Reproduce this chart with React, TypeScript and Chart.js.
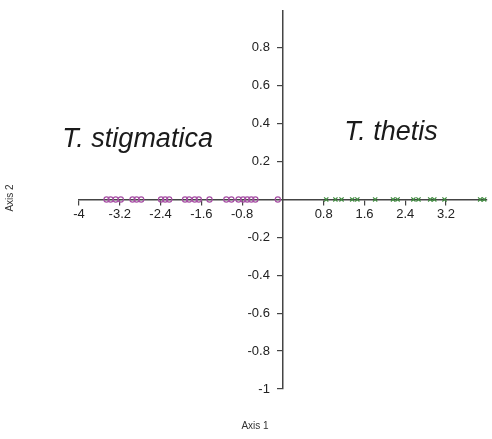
import React, { useEffect, useRef } from "react";
import { Chart, registerables } from "chart.js";

Chart.register(...registerables);

// Axis 1 scores (all points lie on Axis 2 = 0)
const stigmaticaScores = [
  -3.46, -3.38, -3.28, -3.18, -2.95, -2.87, -2.78, -2.39, -2.31, -2.23, -1.92, -1.84,
  -1.73, -1.65, -1.44, -1.11, -1.01, -0.87, -0.78, -0.7, -0.62, -0.54, -0.1,
];
const thetisScores = [
  0.85, 1.03, 1.15, 1.36, 1.46, 1.81, 2.16, 2.25, 2.56, 2.66, 2.89, 2.97, 3.17, 3.87, 3.95,
];
const xTickValues = [-4, -3.2, -2.4, -1.6, -0.8, 0.8, 1.6, 2.4, 3.2];
const yTickValues = [0.8, 0.6, 0.4, 0.2, -0.2, -0.4, -0.6, -0.8, -1];
const groupLabels = [
  { text: "T. stigmatica", x: -2.85, y: 0.315 },
  { text: "T. thetis", x: 2.12, y: 0.355 },
];
const xTitle = "Axis 1";
const yTitle = "Axis 2";

const tickFont = { family: "'Liberation Sans', Arial, sans-serif", size: 13 };

const textPlugin = {
  id: "axisText",
  afterDraw(chart: any) {
    const { ctx, scales } = chart;
    ctx.save();
    ctx.fillStyle = "#1a1a1a";
    ctx.font = "italic 27px 'Liberation Sans', Arial, sans-serif";
    ctx.textAlign = "center";
    ctx.textBaseline = "middle";
    for (const g of groupLabels) {
      ctx.fillText(g.text, scales.x.getPixelForValue(g.x), scales.y.getPixelForValue(g.y));
    }
    ctx.fillStyle = "#333";
    ctx.font = "10px 'Liberation Sans', Arial, sans-serif";
    ctx.fillText(xTitle, 255, 426);
    ctx.translate(10, 198);
    ctx.rotate(-Math.PI / 2);
    ctx.fillText(yTitle, 0, 0);
    ctx.restore();
  },
};

export default function App() {
  const ref = useRef<HTMLCanvasElement | null>(null);

  useEffect(() => {
    if (!ref.current) return;
    const chart = new Chart(ref.current, {
      type: "scatter",
      data: {
        datasets: [
          {
            label: "T. stigmatica",
            data: stigmaticaScores.map((v) => ({ x: v, y: 0 })),
            pointStyle: "circle",
            pointRadius: 2.6,
            borderWidth: 1.2,
            borderColor: "#a64fa4",
            backgroundColor: "rgba(0,0,0,0)",
          },
          {
            label: "T. thetis",
            data: thetisScores.map((v) => ({ x: v, y: 0 })),
            pointStyle: "crossRot",
            pointRadius: 3,
            borderWidth: 1.2,
            borderColor: "#3f8a3f",
            backgroundColor: "rgba(0,0,0,0)",
          },
        ],
      },
      options: {
        animation: false,
        responsive: false,
        layout: { padding: { left: 79, right: 1, top: 9, bottom: 50 } },
        plugins: { legend: { display: false }, tooltip: { enabled: false } },
        scales: {
          x: {
            type: "linear",
            position: { y: 0 },
            min: -4,
            max: 4.0,
            afterBuildTicks: (scale: any) => {
              scale.ticks = xTickValues.map((v) => ({ value: v }));
            },
            grid: {
              drawOnChartArea: false,
              drawTicks: true,
              tickLength: 5,
              color: "#444",
              lineWidth: 1.2,
            },
            border: { display: true, color: "#444", width: 1.5 },
            ticks: {
              color: "#222",
              font: tickFont,
              padding: 2,
              autoSkip: false,
              maxRotation: 0,
              callback: (v: any) => String(v),
            },
          },
          y: {
            type: "linear",
            position: { x: 0 },
            min: -1,
            max: 0.995,
            afterBuildTicks: (scale: any) => {
              scale.ticks = yTickValues.map((v) => ({ value: v }));
            },
            grid: {
              drawOnChartArea: false,
              drawTicks: true,
              tickLength: 5,
              color: "#444",
              lineWidth: 1.2,
            },
            border: { display: true, color: "#444", width: 1.5 },
            ticks: {
              color: "#222",
              font: tickFont,
              padding: 3,
              autoSkip: false,
              // trailing spaces keep the right-aligned labels clear of the tick marks
              callback: (v: any) => String(v) + "\u2002\u2002",
            },
          },
        },
      },
      plugins: [textPlugin],
    });
    return () => chart.destroy();
  }, []);

  return (
    <div style={{ position: "fixed", left: 0, top: 0, width: 492, height: 439, background: "#fff" }}>
      <canvas ref={ref} width={492} height={439} style={{ width: 492, height: 439 }} />
    </div>
  );
}
